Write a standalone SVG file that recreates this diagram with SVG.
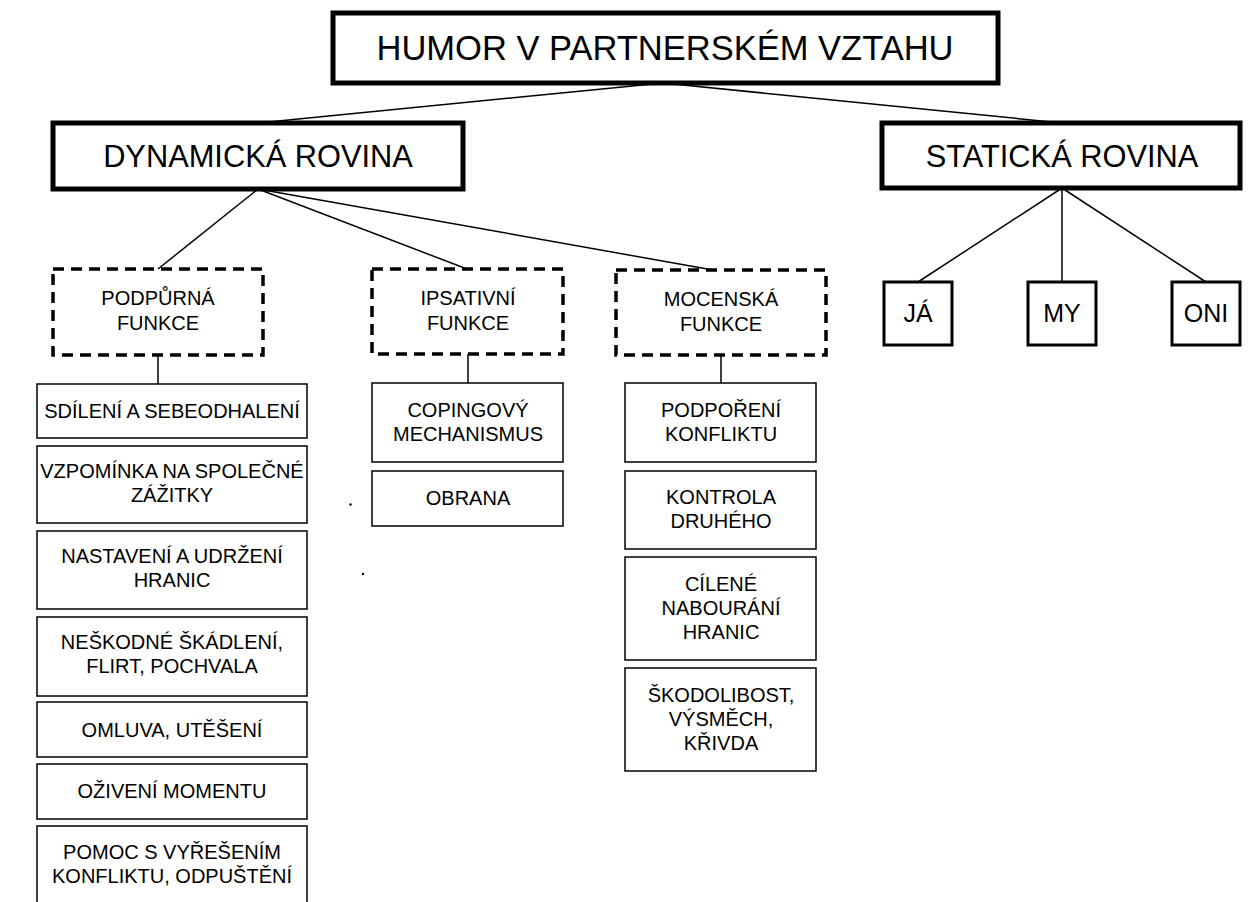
<svg xmlns="http://www.w3.org/2000/svg" width="1258" height="902" viewBox="0 0 1258 902">
<style>
text{font-family:"Liberation Sans",Arial,sans-serif;fill:#000;text-anchor:middle}
.big{font-size:34.5px}
.mid{font-size:30.8px}
.sm{font-size:20px}
.me{font-size:25px}
.thick{fill:#fff;stroke:#000;stroke-width:5}
.dash{fill:#fff;stroke:#000;stroke-width:3.5;stroke-dasharray:11 7}
.box{fill:#fff;stroke:#000;stroke-width:1.5}
.box2{fill:#fff;stroke:#000;stroke-width:3}
.con line{stroke:#000;stroke-width:1.5}
</style>
<rect width="1258" height="902" fill="#fff"/>
<g id="connectors" class="con">
<line x1="663" y1="83" x2="258" y2="123"/>
<line x1="663" y1="83" x2="1062" y2="123"/>
<line x1="258" y1="189" x2="158" y2="269"/>
<line x1="258" y1="189" x2="467" y2="269"/>
<line x1="258" y1="189" x2="713" y2="270"/>
<line x1="158" y1="355" x2="158" y2="384"/>
<line x1="468" y1="354" x2="468" y2="383"/>
<line x1="721" y1="355" x2="721" y2="383"/>
<line x1="1062" y1="188" x2="918" y2="282"/>
<line x1="1062" y1="188" x2="1062" y2="282"/>
<line x1="1062" y1="188" x2="1206" y2="282"/>
</g>
<g id="root"><rect class="thick" x="333" y="13" width="665" height="70"/><text class="big" x="665" y="60">HUMOR V PARTNERSKÉM VZTAHU</text></g>
<g id="dyn"><rect class="thick" x="53" y="123" width="410" height="66"/><text class="mid" x="258" y="167">DYNAMICKÁ ROVINA</text></g>
<g id="stat"><rect class="thick" x="882" y="123" width="358" height="65"/><text class="mid" x="1062" y="167">STATICKÁ ROVINA</text></g>
<g id="ja"><rect class="box2" x="884" y="282" width="68" height="63"/><text class="me" x="918" y="322">JÁ</text></g>
<g id="my"><rect class="box2" x="1028" y="282" width="68" height="63"/><text class="me" x="1062" y="322">MY</text></g>
<g id="oni"><rect class="box2" x="1172" y="282" width="68" height="63"/><text class="me" x="1206" y="322">ONI</text></g>
<g id="podpurna"><rect class="dash" x="53" y="269" width="210" height="86"/><text class="sm" x="158" y="305">PODPŮRNÁ</text><text class="sm" x="158" y="330">FUNKCE</text></g>
<g id="ipsativni"><rect class="dash" x="372" y="269" width="191" height="85"/><text class="sm" x="468" y="305">IPSATIVNÍ</text><text class="sm" x="468" y="330">FUNKCE</text></g>
<g id="mocenska"><rect class="dash" x="616" y="270" width="210" height="85"/><text class="sm" x="721" y="306">MOCENSKÁ</text><text class="sm" x="721" y="331">FUNKCE</text></g>
<g id="l1"><rect class="box" x="37" y="384" width="270" height="54"/><text class="sm" x="172" y="418">SDÍLENÍ A SEBEODHALENÍ</text></g>
<g id="l2"><rect class="box" x="37" y="446" width="270" height="77"/><text class="sm" x="172" y="478">VZPOMÍNKA NA SPOLEČNÉ</text><text class="sm" x="172" y="502">ZÁŽITKY</text></g>
<g id="l3"><rect class="box" x="37" y="531" width="270" height="78"/><text class="sm" x="172" y="563">NASTAVENÍ A UDRŽENÍ</text><text class="sm" x="172" y="587">HRANIC</text></g>
<g id="l4"><rect class="box" x="37" y="617" width="270" height="79"/><text class="sm" x="172" y="649">NEŠKODNÉ ŠKÁDLENÍ,</text><text class="sm" x="172" y="673">FLIRT, POCHVALA</text></g>
<g id="l5"><rect class="box" x="37" y="702" width="270" height="55"/><text class="sm" x="172" y="737">OMLUVA, UTĚŠENÍ</text></g>
<g id="l6"><rect class="box" x="37" y="764" width="270" height="55"/><text class="sm" x="172" y="798">OŽIVENÍ MOMENTU</text></g>
<g id="l7"><rect class="box" x="37" y="826" width="270" height="90"/><text class="sm" x="172" y="859">POMOC S VYŘEŠENÍM</text><text class="sm" x="172" y="883">KONFLIKTU, ODPUŠTĚNÍ</text></g>
<g id="m1"><rect class="box" x="372" y="383" width="191" height="79"/><text class="sm" x="468" y="417">COPINGOVÝ</text><text class="sm" x="468" y="441">MECHANISMUS</text></g>
<g id="m2"><rect class="box" x="372" y="471" width="191" height="55"/><text class="sm" x="468" y="505">OBRANA</text></g>
<g id="r1"><rect class="box" x="625" y="383" width="191" height="79"/><text class="sm" x="721" y="417">PODPOŘENÍ</text><text class="sm" x="721" y="441">KONFLIKTU</text></g>
<g id="r2"><rect class="box" x="625" y="471" width="191" height="78"/><text class="sm" x="721" y="504">KONTROLA</text><text class="sm" x="721" y="528">DRUHÉHO</text></g>
<g id="r3"><rect class="box" x="625" y="557" width="191" height="103"/><text class="sm" x="721" y="591">CÍLENÉ</text><text class="sm" x="721" y="615">NABOURÁNÍ</text><text class="sm" x="721" y="639">HRANIC</text></g>
<g id="r4"><rect class="box" x="625" y="668" width="191" height="103"/><text class="sm" x="721" y="702">ŠKODOLIBOST,</text><text class="sm" x="721" y="726">VÝSMĚCH,</text><text class="sm" x="721" y="750">KŘIVDA</text></g>
<circle cx="350.5" cy="504.5" r="1.2" fill="#000"/>
<circle cx="363" cy="574" r="1.2" fill="#000"/>
</svg>
